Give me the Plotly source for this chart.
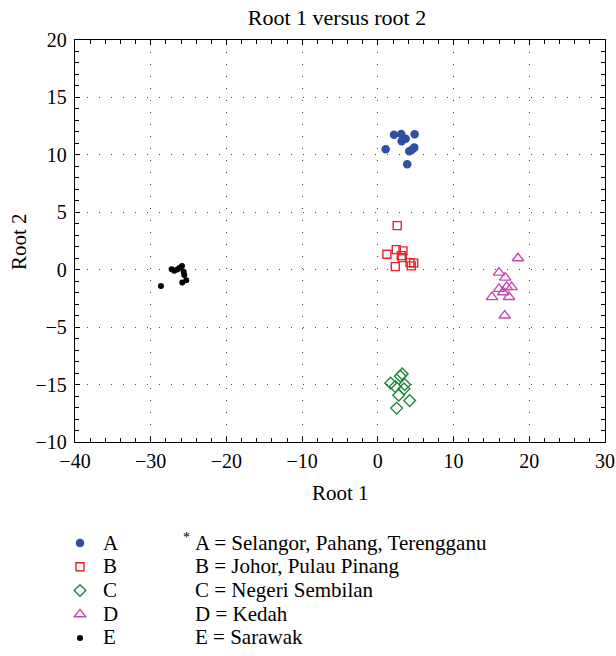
import plotly.graph_objects as go

# ---- data (y in axis position units) ----
a_x = [2.13, 3.09, 4.86, 3.67, 3.14, 1.03, 4.81, 4.46, 4.15, 3.88]
a_y = [11.76, 11.82, 11.79, 11.41, 11.18, 10.49, 10.63, 10.43, 10.31, 9.18]

b_x = [2.56, 1.20, 2.43, 3.32, 3.09, 3.22, 4.24, 4.73, 4.41, 2.30]
b_y = [3.84, 1.35, 1.75, 1.64, 1.23, 1.05, 0.62, 0.57, 0.33, 0.27]

c_x = [3.22, 2.96, 1.69, 2.30, 3.54, 3.45, 2.75, 4.20, 2.48]
c_y = [-9.07, -9.27, -9.88, -10.17, -10.0, -10.37, -10.92, -11.39, -12.05]

d_x = [18.50, 16.0, 16.83, 17.01, 17.67, 16.0, 16.56, 17.32, 15.07, 16.75]
d_y = [1.0, -0.25, -0.69, -1.5, -1.52, -1.67, -1.96, -2.37, -2.39, -3.99]

e_x = [-27.24, -26.89, -26.50, -26.18, -25.87, -25.65, -25.57, -25.30, -25.83, -28.65]
e_y = [0.04, -0.08, 0.01, 0.18, 0.33, -0.17, -0.45, -0.91, -1.12, -1.41]

x_ticks = [-40, -30, -20, -10, 0, 10, 20, 30]
y_tickvals = [20, 15, 10, 5, 0, -5, -10, -15]
y_ticktext = ["20", "15", "10", "5", "0", "\u22125", "\u221215", "\u221210"]

group_names = ["A", "B", "C", "D", "E"]
key_lines = [
    "A = Selangor, Pahang, Terengganu",
    "B = Johor, Pulau Pinang",
    "C = Negeri Sembilan",
    "D = Kedah",
    "E = Sarawak",
]

FONT = "Liberation Serif"
FS = 21

L, R, T, B = 75, 605, 40, 442
PW, PH = R - L, B - T


def px2paper(px, py):
    return (px - L) / PW, (B - py) / PH


fig = go.Figure()
fig.add_trace(go.Scatter(x=a_x, y=a_y, mode="markers", name=" ",
                         marker=dict(symbol="circle", size=8.5, color="#2f4fa5")))
fig.add_trace(go.Scatter(x=b_x, y=b_y, mode="markers", name=" ",
                         marker=dict(symbol="square-open", size=8, color="#e8242a",
                                     line=dict(width=1.4, color="#e8242a"))))
fig.add_trace(go.Scatter(x=c_x, y=c_y, mode="markers", name=" ",
                         marker=dict(symbol="diamond-open", size=9, color="#1e8a3c",
                                     line=dict(width=1.4, color="#1e8a3c"))))
fig.add_trace(go.Scatter(x=d_x, y=d_y, mode="markers", name=" ",
                         marker=dict(symbol="triangle-up-open", size=10, color="#c34bb0",
                                     line=dict(width=1.4, color="#c34bb0"))))
fig.add_trace(go.Scatter(x=e_x, y=e_y, mode="markers", name=" ",
                         marker=dict(symbol="circle", size=6, color="#000000")))

axis_common = dict(
    showline=True, linecolor="black", linewidth=1.3, mirror="allticks",
    ticks="inside", ticklen=5, tickcolor="black", tickwidth=1,
    showgrid=True, gridcolor="#444", gridwidth=1, griddash="1px,11px",
    zeroline=False, tickfont=dict(family=FONT, size=20, color="black"),
)

fig.update_xaxes(range=[-40, 30], tickmode="array", tickvals=x_ticks,
                 minor=dict(tickmode="linear", tick0=0, dtick=2, ticks="inside",
                            ticklen=4, tickcolor="black", showgrid=False),
                 ticklabelstandoff=1, **axis_common)
fig.update_yaxes(range=[-15, 20], tickmode="array", tickvals=y_tickvals, ticktext=y_ticktext,
                 minor=dict(tickmode="linear", tick0=0, dtick=1, ticks="inside",
                            ticklen=4, tickcolor="black", showgrid=False),
                 ticklabelstandoff=3, **axis_common)

annotations = []
# axis titles
xx, yy = px2paper(340, 493)
annotations.append(dict(text="Root 1", xref="paper", yref="paper", x=xx, y=yy,
                        xanchor="center", yanchor="middle", showarrow=False,
                        font=dict(family=FONT, size=FS, color="black")))
xx, yy = px2paper(19, 242)
annotations.append(dict(text="Root 2", xref="paper", yref="paper", x=xx, y=yy,
                        xanchor="center", yanchor="middle", showarrow=False, textangle=-90,
                        font=dict(family=FONT, size=FS, color="black")))
# key
row_y = [543, 566, 590, 614, 637]
for name, txt, py in zip(group_names, key_lines, row_y):
    xx, yy = px2paper(101, py)
    annotations.append(dict(text=name, xref="paper", yref="paper", x=xx, y=yy,
                            xanchor="left", yanchor="middle", showarrow=False,
                            font=dict(family=FONT, size=FS, color="black")))
    xx, yy = px2paper(193, py)
    annotations.append(dict(text=txt, xref="paper", yref="paper", x=xx, y=yy,
                            xanchor="left", yanchor="middle", showarrow=False,
                            font=dict(family=FONT, size=FS, color="black")))
xx, yy = px2paper(192, 537)
annotations.append(dict(text="*", xref="paper", yref="paper", x=xx, y=yy,
                        xanchor="right", yanchor="middle", showarrow=False,
                        font=dict(family=FONT, size=14, color="black")))

fig.update_layout(
    width=616, height=656,
    margin=dict(l=L, r=616 - R, t=T, b=656 - B, autoexpand=False),
    paper_bgcolor="white", plot_bgcolor="white",
    title=dict(text="Root 1 versus root 2", x=337 / 616, xanchor="center",
               y=1 - 17 / 656, yanchor="middle",
               font=dict(family=FONT, size=22, color="black")),
    showlegend=True,
    legend=dict(xref="container", yref="container", x=60 / 616, y=1 - 526 / 656,
                xanchor="left", yanchor="top", font=dict(family=FONT, size=16, color="black"),
                bgcolor="rgba(0,0,0,0)", itemwidth=30, tracegroupgap=0),
    annotations=annotations,
    font=dict(family=FONT),
)

fig.write_html("out.html", config={"displayModeBar": False},
               post_script="document.body.style.margin='0px';")
